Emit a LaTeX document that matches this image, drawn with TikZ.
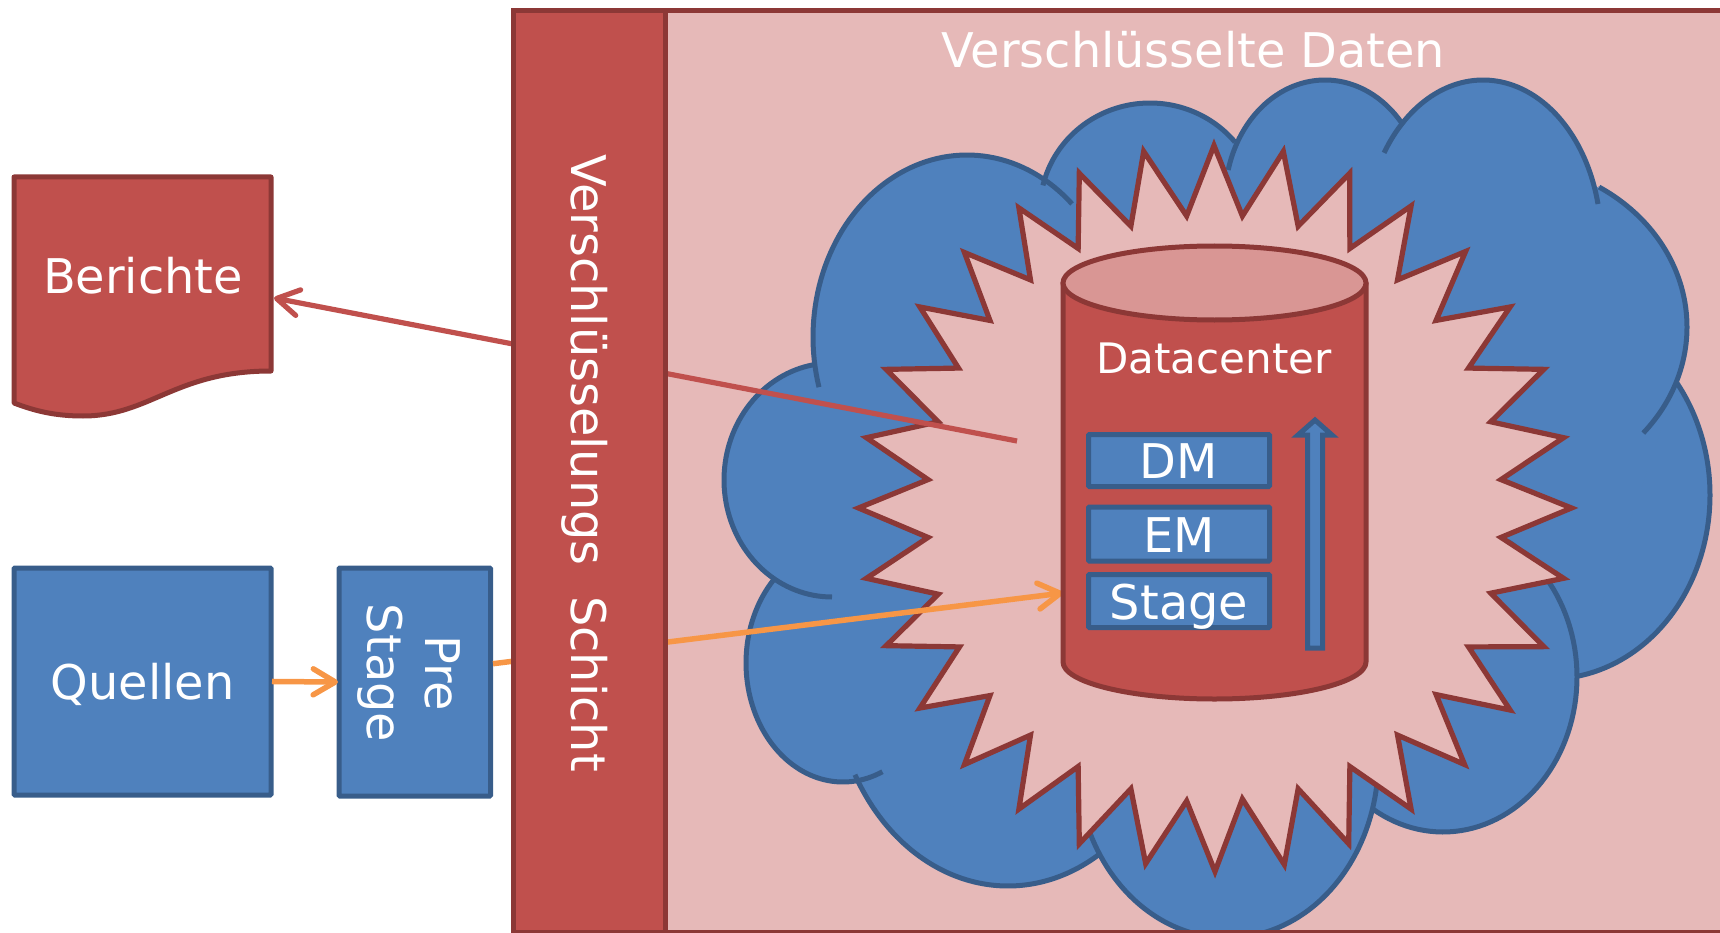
\documentclass[tikz,border=0pt]{standalone}
\usepackage{fontspec}
\setmainfont{DejaVu Sans}
\usetikzlibrary{arrows.meta,calc}
\definecolor{blueF}{HTML}{4F81BD}
\definecolor{blueS}{HTML}{385D8A}
\definecolor{redF}{HTML}{C0504D}
\definecolor{redS}{HTML}{8C3836}
\definecolor{pinkF}{HTML}{E6B9B8}
\definecolor{lidF}{HTML}{D99694}
\definecolor{orangeL}{HTML}{F79646}
\newcommand{\bigtxt}{\fontsize{47.8}{58}\selectfont}
\tikzset{
  label txt/.style={text=white,font=\bigtxt,inner sep=0pt,outer sep=0pt,align=center},
  fixed line/.style={text height=36pt,text depth=0pt},
  bluebox/.style={draw=blueS,fill=blueF,line width=5pt,rounded corners=1pt,inner sep=0pt,text=white,font=\bigtxt,align=center,fixed line},
  redshape/.style={draw=redS,fill=redF,line width=5pt,line join=round},
  cloudfill/.style={fill=blueF,draw=blueF,line width=1pt},
  cloudline/.style={draw=blueS,line width=5pt},
  starline/.style={draw=redS,fill=pinkF,line width=5.2pt,miter limit=12},
  barbtip/.style={-{Straight Barb[length=22pt,width=26pt,line cap=round,line join=round]}},
  redconn/.style={draw=redF,line width=5.2pt,barbtip},
  orangeconn/.style={draw=orangeL,line width=5.5pt,barbtip},
  lobe/.style={variable=\t,samples=70},
}
\begin{document}
\begin{tikzpicture}[x=1pt,y=-1pt]
\useasboundingbox (0,0) rectangle (1720,933);
\clip (0,0) rectangle (1720,933);
% panel
\path[fill=pinkF] (600,11) rectangle (1730,932);
% cloud lobes: centre x / centre y / radius x / radius y / from / to
\def\lobes{967/337/154/182/164/313,
  832/480/108/117/90/260,
  843/663/97/119/66/226,
  1008/670/175/216/58/151,
  1227.5/760/150.8/178/8/156,
  1443/677/134/155/-61/122,
  1550/495/160/184/-37.4/80.3,
  1500/327/187/165/-58/40,
  1483/240/118/160/-147/-13,
  1325/200/100/120/-165.5/-38.7,
  1150/210/110/107/-166.7/-39.4}
\foreach \cx/\cy/\rx/\ry/\a/\b in \lobes{
  \path[cloudfill] plot[lobe,domain=\a:\b] ({\cx+\rx*cos(\t)},{\cy+\ry*sin(\t)}) -- cycle;
}
\path[cloudfill] (1043,185)--(1235,142)--(1403,123)--(1598,188)--(1677,383)--(1577,676)--(1373,805)--(1100,855)--(857,775)--(775,582)--(812,365)--cycle;
\foreach \cx/\cy/\rx/\ry/\a/\b in \lobes{
  \draw[cloudline] plot[lobe,domain=\a:\b] ({\cx+\rx*cos(\t)},{\cy+\ry*sin(\t)});
}
% star
\coordinate (c) at (1214,508);
\draw[starline] ($(1143,148)!3.5pt!(c)$)
  \foreach \x/\y [count=\i, evaluate=\i as \d using {(mod(\i,2)==1)?-4:3.5}] in {1132/230,1078/170,1080/252,1017/205,1033/283,962/250,993/323,917/305,962/370,883/368,942/423,863/437,932/480,855/508,932/537,863/579,942/593,883/647,963/645,917/710,993/693,962/767,1033/732,1017/812,1080/763,1078/847,1132/785,1145/867,1187/797,1215/875,1242/795,1285/868,1297/785,1350/847,1348/763,1413/812,1395/732,1467/767,1433/692,1513/712,1465/645,1547/648,1487/592,1567/579,1497/537,1575/508,1497/480,1567/437,1487/423,1547/368,1465/370,1513/305,1433/323,1468/249,1395/283,1413/203,1348/252,1351/170,1297/230,1284/148,1242/220,1214/142,1187/220}{ -- ($(\x,\y)!\d pt!(c)$) } -- cycle;
% connector ports
\coordinate (berichtePort) at (274,298);
\coordinate (dcOut) at (1017,441);
\coordinate (dcIn) at (1063,593);
\coordinate (preOut) at (493,663.7);
% boxes outside
\draw[redshape] (14,177)--(271,177)--(271,371) .. controls (175,371) and (150,416) .. (83,416) .. controls (55,416) and (35,411) .. (14,403) -- cycle;
\node[label txt,fixed line] (berichte) at (143,275.5) {Berichte};
\node[bluebox,minimum width=257pt,minimum height=227pt] (quellen) at (142.5,681.5) {Quellen};
\node[bluebox,minimum width=151.5pt,minimum height=228pt] (prestage) at (414.75,682) {};
\node[label txt,rotate=-90,anchor=center] (prestagetxt) at (409,673) {Pre\\Stage};
% connectors
\draw[redconn] (dcOut) -- (berichtePort);
\draw[orangeconn] (preOut) -- (dcIn);
\draw[orangeconn,shorten <=-1.5pt,shorten >=-1.5pt] (quellen.east) -- (prestage.west);
% bar
\draw[draw=redS,fill=redF,line width=5pt] (513,11) rectangle (665,932);
\draw[draw=redS,line width=5pt] (665,11) -- (1730,11);
\draw[draw=redS,line width=5pt] (665,932) -- (1730,932);
\node[label txt,rotate=-90] (bar) at (585,463) {Verschlüsselungs\ \ Schicht};
\node[label txt] (top) at (1193.5,50) {Verschlüsselte Daten};
% cylinder
\draw[redshape] (1063,283) -- (1063,662) arc[start angle=180,end angle=360,x radius=151.5,y radius=-37] -- (1366,283) -- cycle;
\draw[draw=redS,fill=lidF,line width=5pt] (1214.5,283) ellipse[x radius=151.5,y radius=37];
\node[label txt,font=\fontsize{42}{50}\selectfont] (dc) at (1214,358) {Datacenter};
\node[bluebox,minimum width=181pt,minimum height=52pt] (dm) at (1179,460.5) {DM};
\node[bluebox,minimum width=181pt,minimum height=54pt] (em) at (1179,534) {EM};
\node[bluebox,minimum width=181pt,minimum height=53pt] (stage) at (1179,601) {Stage};
\draw[draw=blueS,fill=blueF,line width=5pt,miter limit=10] (1315,420)--(1332,435)--(1322.5,435)--(1322.5,648)--(1307.5,648)--(1307.5,435)--(1298,435)--cycle;
\end{tikzpicture}
\end{document}
